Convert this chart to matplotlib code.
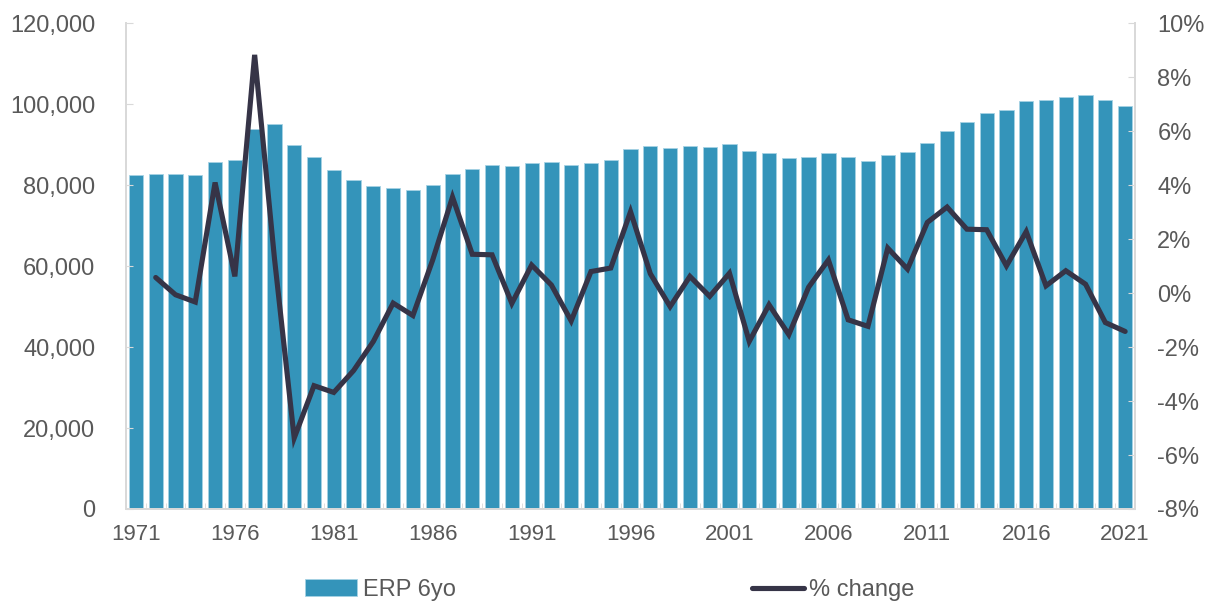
import matplotlib.pyplot as plt
import numpy as np
from matplotlib.ticker import FuncFormatter, MultipleLocator

# Data
years = list(range(1971, 2022))
erp_6yo = [
    82400, 82800, 82700, 82400, 85750, 86250, 93800, 95100, 89950, 86900,
    83700, 81300, 79800, 79400, 78850, 80000, 82800, 83950, 85100, 84750,
    85500, 85800, 84950, 85500, 86300, 88900, 89600, 89150, 89700, 89450,
    90100, 88550, 88050, 86750, 86900, 87900, 87050, 85950, 87400, 88150,
    90450, 93350, 95550, 97800, 98650, 100900, 101150, 101900, 102200, 101150,
    99600,
]
pct_change = [
    None, 0.58, -0.06, -0.33, 4.1, 0.62, 8.83, 1.3, -5.37, -3.43,
    -3.68, -2.87, -1.79, -0.37, -0.83, 1.23, 3.56, 1.44, 1.42, -0.38,
    1.04, 0.3, -1.03, 0.8, 0.93, 3.02, 0.72, -0.5, 0.62, -0.12,
    0.74, -1.79, -0.43, -1.54, 0.22, 1.23, -0.99, -1.23, 1.67, 0.89,
    2.62, 3.19, 2.37, 2.35, 1.01, 2.28, 0.27, 0.83, 0.33, -1.09,
    -1.42,
]
label_years = list(range(1971, 2022, 5))

bar_color = '#3494ba'
line_color = '#363447'
text_color = '#595959'
spine_color = '#d9d9d9'

plt.rcParams['font.family'] = ['Liberation Sans', 'DejaVu Sans']
plt.rcParams['font.size'] = 15

fig = plt.figure(figsize=(12.12, 6.02), dpi=100)
ax = fig.add_axes([0.104, 0.1545, 0.8325, 0.8068])
ax2 = ax.twinx()

# Bars on the left axis
bars = ax.bar(years, erp_6yo, width=0.72, color=bar_color,
              edgecolor='#a6d2e4', linewidth=0.6, label='ERP 6yo')

# % change on the right axis
pct = np.array([np.nan if v is None else v for v in pct_change]) / 100
line, = ax2.plot(years, pct, color=line_color, linewidth=3.7,
                 solid_joinstyle='miter', solid_capstyle='round', label='% change')

ax.set_xlim(1970.62, 2021.45)
ax.set_ylim(0, 120000)
ax2.set_ylim(-0.08, 0.10)

ax.yaxis.set_major_locator(MultipleLocator(20000))
ax.yaxis.set_major_formatter(FuncFormatter(lambda v, p: f'{v:,.0f}'))
ax2.yaxis.set_major_locator(MultipleLocator(0.02))
ax2.yaxis.set_major_formatter(FuncFormatter(lambda v, p: f'{v * 100:.0f}%'))

ax.set_xticks(label_years)
ax.set_xticks(np.arange(1970.5, 2021.6, 1), minor=True)

for a in (ax, ax2):
    a.spines['top'].set_visible(False)
    for s in ('left', 'right', 'bottom'):
        a.spines[s].set_color(spine_color)
        a.spines[s].set_linewidth(1.3)

ax.tick_params(axis='y', direction='in', length=5, color=spine_color,
               labelcolor=text_color, pad=22, labelsize=17)
ax2.tick_params(axis='y', direction='in', length=5, color=spine_color,
                labelcolor=text_color, pad=16, labelsize=17)
ax.tick_params(axis='x', which='major', length=0, labelcolor=text_color,
               pad=11, labelsize=16)
ax.tick_params(axis='x', which='minor', direction='in', length=4,
               color=spine_color)

# Legend below the chart, two separate entries
fig.legend(handles=[bars], loc='center left', bbox_to_anchor=(305 / 1212, 1 - 590 / 602),
           frameon=False, handlelength=2.2, handleheight=0.75, handletextpad=0.25,
           borderpad=0, borderaxespad=0, labelcolor=text_color, fontsize=17)
fig.legend(handles=[line], loc='center left', bbox_to_anchor=(752 / 1212, 1 - 590 / 602),
           frameon=False, handlelength=2.2, handletextpad=0.2,
           borderpad=0, borderaxespad=0, labelcolor=text_color, fontsize=17)

fig.savefig('out.png', dpi=100)
